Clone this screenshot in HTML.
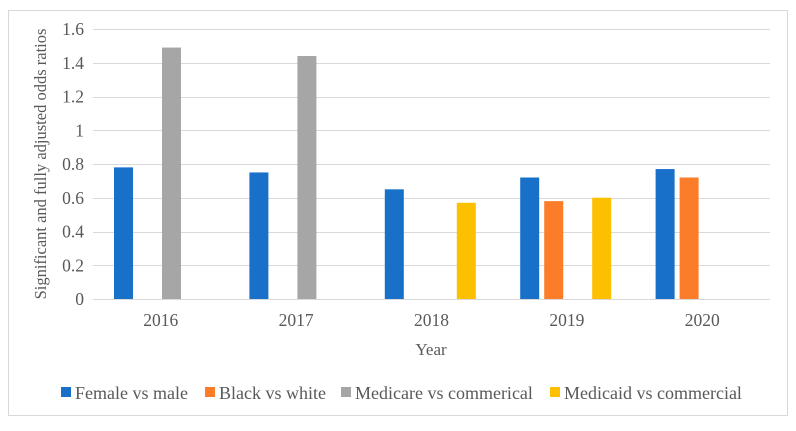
<!DOCTYPE html>
<html><head><meta charset="utf-8"><style>
body{margin:0;background:#fff;width:796px;height:426px;overflow:hidden}
svg text{font-family:"Liberation Serif",serif;fill:#595959}
</style></head><body>
<svg width="796" height="426">
<rect x="8.5" y="10.5" width="779" height="405" fill="#fff" stroke="#d9d9d9"/>
<g id="grid"></g><g id="bars"></g><g id="labels"></g>
<text transform="translate(46,164) rotate(-90)" text-anchor="middle" style="font-family:'Liberation Serif',serif;font-size:16.5px">Significant and fully adjusted odds ratios</text>
<text x="431" y="355" text-anchor="middle" style="font-family:'Liberation Serif',serif;font-size:17px">Year</text>
<g id="legend"></g>
</svg>
<script>
const categories=["2016","2017","2018","2019","2020"];
const seriesNames=["Female vs male","Black vs white","Medicare vs commerical","Medicaid vs commercial"];
const female=[0.78,0.75,0.65,0.72,0.77];
const black=[null,null,null,0.58,0.72];
const medicare=[1.49,1.44,null,null,null];
const medicaid=[null,null,0.57,0.60,null];
const yTicks=[0,0.2,0.4,0.6,0.8,1,1.2,1.4,1.6];
const yTickLabels=["0","0.2","0.4","0.6","0.8","1","1.2","1.4","1.6"];
const colors=["#1870c9","#fb7d2a","#a6a6a6","#fdc000"];
const series=[female,black,medicare,medicaid];
const NS="http://www.w3.org/2000/svg";
const x0=93,x1=770,y0=299,y1=29;
const gw=(x1-x0)/categories.length;
const y=v=>y0-(v/1.6)*(y0-y1);
const xb=(i,k)=>x0+i*gw+21+24*k;
function mk(t,a,p){const e=document.createElementNS(NS,t);for(const k in a)e.setAttribute(k,a[k]);p.appendChild(e);return e;}
function txt(p,x,yy,size,anchor,s){const e=mk('text',{x:x,y:yy,'text-anchor':anchor},p);e.style.fontFamily="'Liberation Serif', serif";e.style.fontSize=size+'px';e.textContent=s;return e;}
const G=document.getElementById('grid'),B=document.getElementById('bars'),L=document.getElementById('labels'),LG=document.getElementById('legend');
yTicks.forEach((t,i)=>{
 const l=mk('line',{x1:x0,x2:x1,y1:Math.round(y(t))+0.5,y2:Math.round(y(t))+0.5,stroke:'#d9d9d9'},G);
 
 
 const tx=txt(L,84,y(t)+6,17.5,'end',yTickLabels[i]);
 
 
});
categories.forEach((c,i)=>{
 const tx=txt(L,x0+gw*(i+0.5),326,17.5,'middle',c);
 
 
 series.forEach((s,k)=>{
  if(s[i]==null)return;
  const r=mk('rect',{x:xb(i,k),y:y(s[i]),width:19,height:y0-y(s[i]),fill:colors[k]},B);
  
  
 });
});
const lx=[61,205,341,550];
seriesNames.forEach((n,k)=>{
 const g=mk('g',{},LG);
 
 
 mk('rect',{x:lx[k],y:387,width:10,height:10,fill:colors[k]},g);
 txt(g,lx[k]+14,399,18,'start',n);
});
</script>
</body></html>
